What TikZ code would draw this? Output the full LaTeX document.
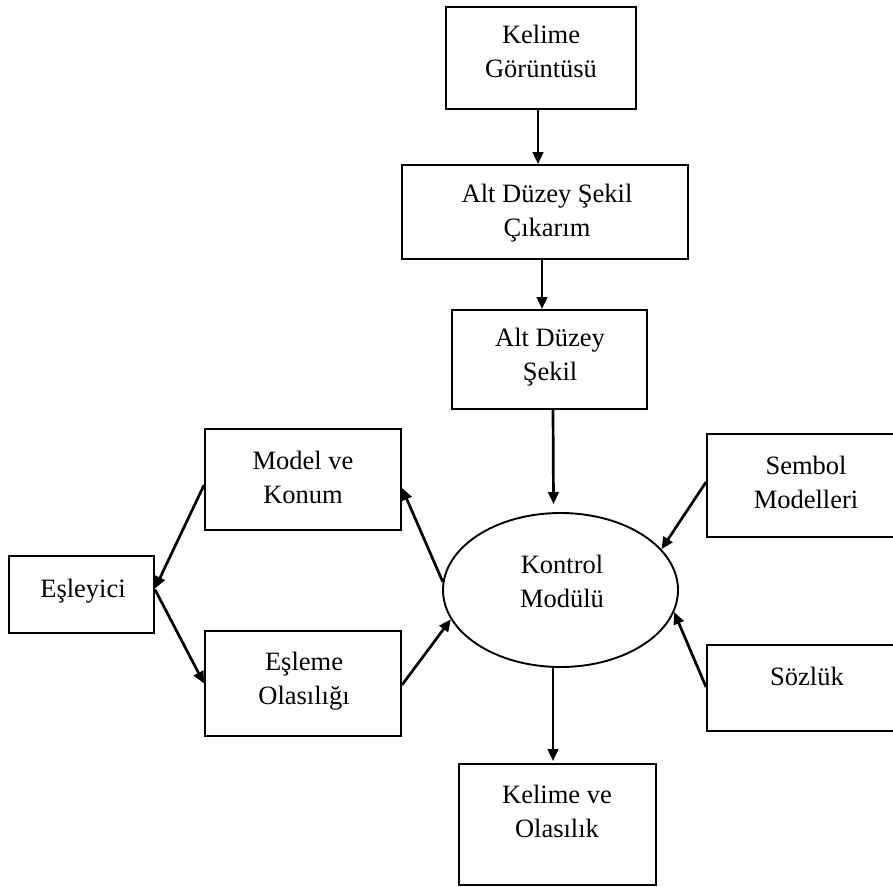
\documentclass[tikz,border=0pt]{standalone}
\usepackage{fontspec}
\setmainfont{Liberation Serif}
\usetikzlibrary{arrows.meta,shapes.geometric}

\tikzset{
  box/.style={draw, line width=1.9pt, rectangle, inner sep=0pt},
  oval/.style={draw, line width=1.9pt, ellipse, inner sep=0pt},
  txt/.style={inner sep=0pt, align=center, font=\fontsize{26.5}{34}\selectfont},
  arr/.style={line width=2.7pt, -{Triangle[length=12pt,width=10.5pt]}}
}

\begin{document}
\begin{tikzpicture}[x=1pt, y=-1pt]
\useasboundingbox (0,0) rectangle (893,886);

% boxes and the central control module
\node[box, minimum width=190pt, minimum height=102pt] (kg) at (541,58) {};
\node[box, minimum width=286pt, minimum height=94pt] (ck) at (545,212) {};
\node[box, minimum width=195pt, minimum height=99pt] (ads) at (549.5,359.5) {};
\node[box, minimum width=196pt, minimum height=101pt] (mk) at (303,479.5) {};
\node[box, minimum width=196pt, minimum height=105pt] (eo) at (303,683.5) {};
\node[box, minimum width=145pt, minimum height=77pt] (es) at (81.5,594.5) {};
\node[box, minimum width=197pt, minimum height=103pt] (sm) at (805.5,485.5) {};
\node[box, minimum width=197pt, minimum height=86pt] (sz) at (805.5,688) {};
\node[box, minimum width=197pt, minimum height=121pt] (ko) at (557.5,824.5) {};
\node[oval, minimum width=235pt, minimum height=154pt] (kc) at (560.5,590) {};

% labels
\node[txt] (kg-t) at (541,51) {Kelime\\Görüntüsü};
\node[txt] (ck-t) at (547,213) {Alt Düzey Şekil\\Çıkarım};
\node[txt] (ads-t) at (550,357.5) {Alt Düzey\\Şekil};
\node[txt] (mk-t) at (303,477) {Model ve\\Konum};
\node[txt] (eo-t) at (304,681) {Eşleme\\Olasılığı};
\node[txt, anchor=base] (es-t) at (83,597) {Eşleyici};
\node[txt] (sm-t) at (806,482) {Sembol\\Modelleri};
\node[txt, anchor=base] (sz-t) at (807,685) {Sözlük};
\node[txt] (kc-t) at (562,581.5) {Kontrol\\Modülü};
\node[txt] (ko-t) at (557,811.5) {Kelime ve\\Olasılık};

% connectors
\draw[arr] ([xshift=-3pt]kg.south) -- ([xshift=-3pt]kg.south |- ck.north);
\draw[arr] ([xshift=-3pt]ck.south) -- ([xshift=-3pt]ck.south |- ads.north);
\draw[arr] ([xshift=3.5pt]ads.south) -- ([xshift=-7pt,yshift=8pt]kc.north);
\draw[arr] ([xshift=-7.5pt]kc.south) -- ([xshift=-4.5pt,yshift=2pt]ko.north);
\draw[arr] ([yshift=-5.5pt]mk.west) -- ([yshift=6pt]es.east);
\draw[arr] ([yshift=5pt]es.east) -- (eo.west);
\draw[arr] (kc.176) -- ([yshift=-8.5pt]mk.east);
\draw[arr] ([yshift=-1.5pt]eo.east) -- (kc.195);
\draw[arr] ([yshift=3.5pt]sm.west) -- (kc.22);
\draw[arr] ([yshift=1pt]sz.west) -- (kc.349);
\end{tikzpicture}
\end{document}
